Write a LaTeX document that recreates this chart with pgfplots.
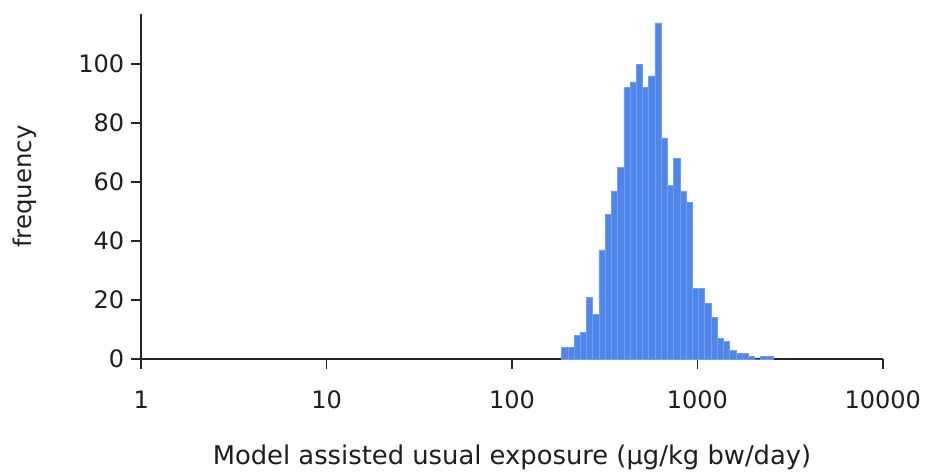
\documentclass[border=0pt]{standalone}
\usepackage{fontspec}
\setmainfont{DejaVu Sans}
\usepackage{pgfplots}
\pgfplotsset{compat=1.18}
\definecolor{barblue}{RGB}{80,134,233}
\definecolor{baredge}{RGB}{112,157,238}
\definecolor{txt}{RGB}{30,30,30}
\begin{document}
\begin{tikzpicture}[x=1pt,y=1pt]
\begin{axis}[
  name=ax,
  scale only axis,
  width=370.7pt, height=172.5pt,
  xmode=log, xmin=1, xmax=10000,
  ymin=0, ymax=117,
  axis lines*=left,
  axis line style={line width=0.8pt, black!85},
  tick style={line width=0.8pt, black!85},
  tick align=outside,
  major tick length=5pt,
  xtick={1,10,100,1000,10000},
  xticklabels={1,10,100,1000,10000},
  xminorticks=false,
  ytick={0,20,40,60,80,100},
  /pgf/number format/assume math mode=true,
  tick label style={font=\fontsize{12}{14}\selectfont, text=txt},
  xticklabel style={yshift=-7.5pt},
  xlabel={Model assisted usual exposure (µg/kg bw/day)},
  ylabel={frequency},
  xlabel style={font=\fontsize{12.9}{15}\selectfont, text=txt, at={(axis description cs:0.5,-0.284)}, anchor=center},
  ylabel style={font=\fontsize{12.2}{15}\selectfont, text=txt, at={(axis description cs:-0.157,0.5)}, anchor=center, rotate=0},
  clip=false,
]
\addplot[ybar interval, fill=barblue, draw=baredge, line width=0.3pt] coordinates {
(185.2,4) (200.1,4) (216.2,8) (233.6,9) (252.3,21) (272.6,15)
(294.5,37) (318.2,49) (343.8,57) (371.4,65) (401.3,92) (433.5,94)
(468.4,100) (506.0,92) (546.7,96) (590.7,114) (638.2,75) (689.5,59)
(744.9,68) (804.8,57) (869.5,53) (939.4,24) (1014.9,24) (1096.5,19)
(1184.6,14) (1279.9,7) (1382.8,6) (1493.9,3) (1614.0,2) (1743.8,2)
(1884.0,1) (2035.5,0) (2199.1,1) (2375.9,1) (2566.9,1)
};
\end{axis}
\pgfresetboundingbox
\path (ax.south west) ++(-70.65pt,-56.5pt) rectangle ++(462.5pt,236pt);
\end{tikzpicture}
\end{document}
